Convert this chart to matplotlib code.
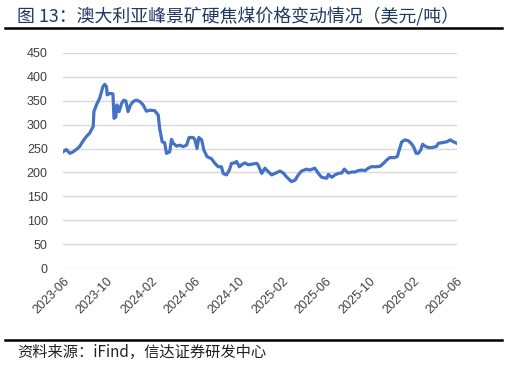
import matplotlib
matplotlib.use("Agg")
import matplotlib.pyplot as plt
import matplotlib.dates as mdates
import pandas as pd

plt.rcParams['font.family'] = ['Liberation Sans', 'Noto Sans CJK SC', 'DejaVu Sans']

title = "图 13：澳大利亚峰景矿硬焦煤价格变动情况（美元/吨）"
source = "资料来源：iFind，信达证券研发中心"

# price readings (USD/t)
dates = [
    "2023-06-01", "2023-06-10", "2023-06-20", "2023-06-29", "2023-07-08", "2023-07-17",
    "2023-07-27", "2023-08-05", "2023-08-14", "2023-08-24", "2023-08-26", "2023-09-02",
    "2023-09-11", "2023-09-20", "2023-09-25", "2023-09-30", "2023-10-02", "2023-10-09",
    "2023-10-18", "2023-10-21", "2023-10-26", "2023-10-29", "2023-11-04", "2023-11-11",
    "2023-11-17", "2023-11-23", "2023-11-29", "2023-12-06", "2023-12-13", "2023-12-22",
    "2024-01-01", "2024-01-10", "2024-01-19", "2024-01-29", "2024-02-11", "2024-02-21",
    "2024-02-25", "2024-03-03", "2024-03-10", "2024-03-15", "2024-03-24", "2024-03-29",
    "2024-04-03", "2024-04-12", "2024-04-21", "2024-04-30", "2024-05-10", "2024-05-17",
    "2024-05-28", "2024-06-02", "2024-06-08", "2024-06-13", "2024-06-21", "2024-06-27",
    "2024-07-06", "2024-07-18", "2024-07-28", "2024-08-06", "2024-08-15", "2024-08-20",
    "2024-08-29", "2024-09-06", "2024-09-12", "2024-09-21", "2024-09-26", "2024-10-04",
    "2024-10-10", "2024-10-19", "2024-10-29", "2024-11-12", "2024-11-21", "2024-11-25",
    "2024-12-05", "2024-12-14", "2024-12-23", "2025-01-02", "2025-01-11", "2025-01-25",
    "2025-02-03", "2025-02-12", "2025-02-26", "2025-03-08", "2025-03-17", "2025-03-26",
    "2025-04-09", "2025-04-18", "2025-05-02", "2025-05-12", "2025-05-21", "2025-06-04",
    "2025-06-09", "2025-06-18", "2025-06-27", "2025-07-06", "2025-07-16", "2025-07-23",
    "2025-08-03", "2025-08-13", "2025-08-22", "2025-08-31", "2025-09-09", "2025-09-19",
    "2025-09-28", "2025-10-07", "2025-10-21", "2025-10-31", "2025-11-09", "2025-11-18",
    "2025-11-27", "2025-12-11", "2025-12-18", "2025-12-23", "2025-12-30", "2026-01-08",
    "2026-01-18", "2026-01-27", "2026-02-02", "2026-02-08", "2026-02-14", "2026-02-21",
    "2026-02-26", "2026-03-05", "2026-03-14", "2026-03-24", "2026-04-05", "2026-04-11",
    "2026-04-20", "2026-05-04", "2026-05-14", "2026-05-23", "2026-06-01",
]
prices = [
    243, 248, 240, 243, 248, 254,
    266, 275, 282, 296, 327, 341,
    355, 379, 384, 379, 362, 365,
    364, 313, 316, 341, 327, 344,
    351, 349, 327, 341, 348, 351,
    348, 341, 328, 330, 329, 320,
    292, 264, 262, 240, 243, 269,
    261, 255, 257, 254, 257, 273,
    273, 269, 250, 273, 268, 247,
    233, 229, 219, 212, 212, 198,
    195, 205, 219, 220, 223, 212,
    216, 220, 216, 218, 219, 216,
    198, 209, 202, 195, 198, 203,
    199, 191, 181, 184, 195, 203,
    207, 205, 209, 198, 190, 188,
    196, 190, 195, 198, 199, 207,
    199, 201, 201, 204, 205, 204,
    209, 212, 212, 213, 219, 226,
    231, 231, 234, 247, 264, 268,
    266, 259, 252, 240, 240, 247,
    259, 255, 252, 252, 254, 261,
    262, 264, 268, 264, 261,
]
xticks = ["2023-06", "2023-10", "2024-02", "2024-06", "2024-10",
          "2025-02", "2025-06", "2025-10", "2026-02", "2026-06"]
yticks = [0, 50, 100, 150, 200, 250, 300, 350, 400, 450]

x = pd.to_datetime(dates)

fig = plt.figure(figsize=(5.07, 3.65), dpi=100)
ax = fig.add_axes([0.1243, 0.2649, 0.7765, 0.5907])

ax.plot(x, prices, color='#4472c4', linewidth=2.3, solid_joinstyle='round')

ax.set_ylim(0, 450)
ax.set_yticks(yticks)
ax.set_xlim(pd.Timestamp("2023-06-01"), pd.Timestamp("2026-06-01"))
ax.set_xticks(pd.to_datetime(xticks))
ax.xaxis.set_major_formatter(mdates.DateFormatter("%Y-%m"))
ax.grid(axis='y', color='#d9d9d9', linewidth=1)
ax.set_axisbelow(True)
for s in ax.spines.values():
    s.set_visible(False)
ax.tick_params(axis='both', length=0, labelsize=9, colors='#404040')
ax.tick_params(axis='y', pad=11)
ax.tick_params(axis='x', pad=5)
for lab in ax.get_xticklabels():
    lab.set_rotation(45)
    lab.set_ha('right')
    lab.set_va('top')
    lab.set_rotation_mode('anchor')

fig.text(0.034, 0.955, title, fontsize=12.9, color='#1f3864', fontweight='medium',
         family=['Noto Sans CJK SC', 'DejaVu Sans'], va='center', ha='left')
fig.add_artist(plt.Line2D([0.01, 0.99], [0.923, 0.923], color='black', linewidth=1.8))
fig.add_artist(plt.Line2D([0.01, 0.99], [0.068, 0.068], color='black', linewidth=1.8))
fig.text(0.034, 0.035, source, fontsize=11, color='#222222', style='italic',
         family=['Noto Sans CJK SC', 'DejaVu Sans'], va='center', ha='left')

fig.savefig("out.png", dpi=100)
